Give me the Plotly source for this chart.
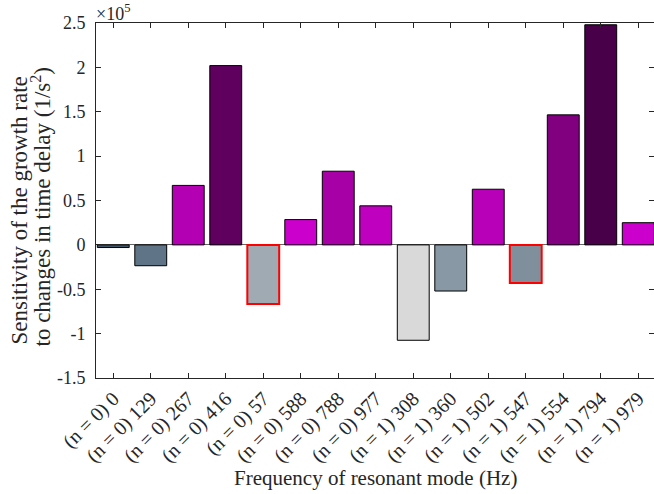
import plotly.graph_objects as go

categories = ["(n = 0) 0", "(n = 0) 129", "(n = 0) 267", "(n = 0) 416", "(n = 0) 57",
              "(n = 0) 588", "(n = 0) 788", "(n = 0) 977", "(n = 1) 308", "(n = 1) 360",
              "(n = 1) 502", "(n = 1) 547", "(n = 1) 554", "(n = 1) 794", "(n = 1) 979"]
sensitivity = [-0.03e5, -0.235e5, 0.67e5, 2.02e5, -0.665e5,
               0.285e5, 0.83e5, 0.44e5, -1.075e5, -0.52e5,
               0.627e5, -0.43e5, 1.465e5, 2.48e5, 0.25e5]
y_tick_vals = [-1.5e5, -1e5, -0.5e5, 0, 0.5e5, 1e5, 1.5e5, 2e5, 2.5e5]
y_tick_text = ["-1.5", "-1", "-0.5", "0", "0.5", "1", "1.5", "2", "2.5"]
y_title_lines = ["Sensitivity of the growth rate", "to changes in time delay (1/s<sup>2</sup>)"]
x_title = "Frequency of resonant mode (Hz)"

bar_colors = ["#3f5768", "#5f7587", "#b200b2", "#5f005f", "#a0aab3",
              "#cc00cc", "#a600a6", "#bf00bf", "#d9d9d9", "#8899a5",
              "#b800b8", "#7f909c", "#800080", "#480048", "#cc00cc"]
edge_colors = ["#000000"] * 15
edge_colors[4] = "#ff0000"
edge_colors[11] = "#ff0000"
edge_widths = [1] * 15
edge_widths[4] = 2
edge_widths[11] = 2

FONT = "Liberation Serif"
AX = "#262626"

fig = go.Figure(go.Bar(
    x=categories, y=sensitivity,
    marker=dict(color=bar_colors, line=dict(color=edge_colors, width=edge_widths)),
    width=0.85,
))

fig.update_layout(
    width=654, height=494,
    margin=dict(l=96, r=0, t=23, b=116),
    plot_bgcolor="white", paper_bgcolor="white",
    showlegend=False,
    font=dict(family=FONT, size=16, color=AX),
)
fig.update_xaxes(
    type="category", range=[-0.46, 14.42],
    showline=True, linecolor=AX, linewidth=1, mirror="ticks",
    ticks="inside", ticklen=5, tickcolor=AX, tickangle=-45,
    tickfont=dict(family=FONT, size=20, color=AX), showgrid=False,
)
fig.update_yaxes(
    range=[-1.5e5, 2.5e5], tickvals=y_tick_vals, ticktext=y_tick_text,
    showline=True, linecolor=AX, linewidth=1, mirror="ticks",
    ticks="inside", ticklen=5, tickcolor=AX, ticklabelstandoff=6,
    tickfont=dict(family=FONT, size=18, color=AX), showgrid=False,
    zeroline=True, zerolinecolor="#666666", zerolinewidth=1,
)
for i, (line, xs) in enumerate(zip(y_title_lines, [-77, -55])):
    fig.add_annotation(
        text=line,
        xref="paper", yref="paper", x=0, y=0.5, xanchor="center", yanchor="middle",
        xshift=xs, yshift=-10 if i == 0 else -6, textangle=-90, showarrow=False,
        font=dict(family=FONT, size=23, color=AX),
    )
fig.add_annotation(
    text=x_title,
    xref="paper", yref="paper", x=0.5, y=0, xanchor="center", yanchor="middle",
    yshift=-100, showarrow=False,
    font=dict(family=FONT, size=21, color=AX),
)
fig.add_annotation(
    text="×10<sup>5</sup>",
    xref="paper", yref="paper", x=0, y=1, xanchor="left", yanchor="bottom",
    xshift=-2, yshift=-3, showarrow=False,
    font=dict(family=FONT, size=18, color=AX),
)

fig.write_html("out.html", config={"displayModeBar": False},
               post_script="document.body.style.margin='0';")
